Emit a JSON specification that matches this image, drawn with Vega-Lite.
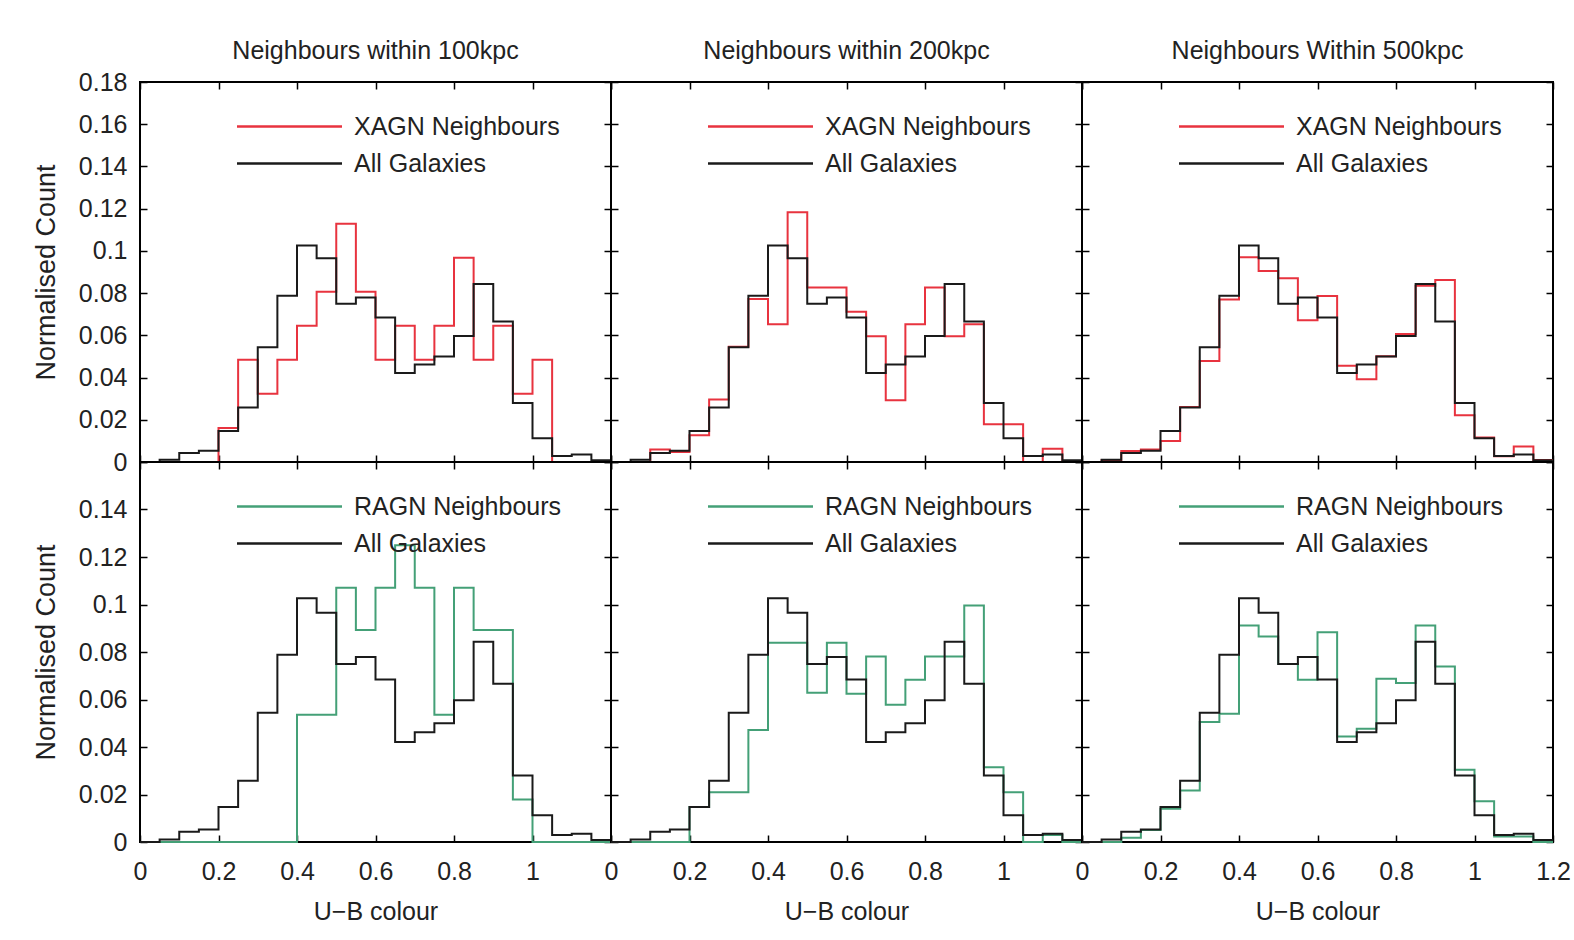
{
  "$schema": "https://vega.github.io/schema/vega-lite/v6.json",
  "background": "white",
  "padding": {"left": 31, "top": 38, "right": 10, "bottom": 5},
  "datasets": {
    "all": [
      {"x": 0, "y": 0}, {"x": 0.05, "y": 0.0011}, {"x": 0.1, "y": 0.0043}, {"x": 0.15, "y": 0.0053},
      {"x": 0.2, "y": 0.0147}, {"x": 0.25, "y": 0.0258}, {"x": 0.3, "y": 0.0544}, {"x": 0.35, "y": 0.0788},
      {"x": 0.4, "y": 0.1026}, {"x": 0.45, "y": 0.0965}, {"x": 0.5, "y": 0.075}, {"x": 0.55, "y": 0.0779},
      {"x": 0.6, "y": 0.0684}, {"x": 0.65, "y": 0.0421}, {"x": 0.7, "y": 0.0462}, {"x": 0.75, "y": 0.05},
      {"x": 0.8, "y": 0.0597}, {"x": 0.85, "y": 0.0843}, {"x": 0.9, "y": 0.0666}, {"x": 0.95, "y": 0.028},
      {"x": 1.0, "y": 0.0113}, {"x": 1.05, "y": 0.0029}, {"x": 1.1, "y": 0.0035}, {"x": 1.15, "y": 0.0008},
      {"x": 1.2, "y": 0.0008}
    ],
    "xagn100": [
      {"x": 0, "y": 0}, {"x": 0.05, "y": 0}, {"x": 0.1, "y": 0}, {"x": 0.15, "y": 0},
      {"x": 0.2, "y": 0.0161}, {"x": 0.25, "y": 0.0484}, {"x": 0.3, "y": 0.0323}, {"x": 0.35, "y": 0.0484},
      {"x": 0.4, "y": 0.0645}, {"x": 0.45, "y": 0.0806}, {"x": 0.5, "y": 0.1129}, {"x": 0.55, "y": 0.0806},
      {"x": 0.6, "y": 0.0484}, {"x": 0.65, "y": 0.0645}, {"x": 0.7, "y": 0.0484}, {"x": 0.75, "y": 0.0645},
      {"x": 0.8, "y": 0.0968}, {"x": 0.85, "y": 0.0484}, {"x": 0.9, "y": 0.0645}, {"x": 0.95, "y": 0.0323},
      {"x": 1.0, "y": 0.0484}, {"x": 1.05, "y": 0}, {"x": 1.1, "y": 0}, {"x": 1.15, "y": 0},
      {"x": 1.2, "y": 0}
    ],
    "xagn200": [
      {"x": 0, "y": 0}, {"x": 0.05, "y": 0}, {"x": 0.1, "y": 0.0059}, {"x": 0.15, "y": 0.0047},
      {"x": 0.2, "y": 0.0127}, {"x": 0.25, "y": 0.0296}, {"x": 0.3, "y": 0.0546}, {"x": 0.35, "y": 0.0772},
      {"x": 0.4, "y": 0.0653}, {"x": 0.45, "y": 0.1183}, {"x": 0.5, "y": 0.0827}, {"x": 0.55, "y": 0.0827},
      {"x": 0.6, "y": 0.0712}, {"x": 0.65, "y": 0.0596}, {"x": 0.7, "y": 0.0293}, {"x": 0.75, "y": 0.0652},
      {"x": 0.8, "y": 0.0827}, {"x": 0.85, "y": 0.0596}, {"x": 0.9, "y": 0.0653}, {"x": 0.95, "y": 0.0179},
      {"x": 1.0, "y": 0.0179}, {"x": 1.05, "y": 0}, {"x": 1.1, "y": 0.0063}, {"x": 1.15, "y": 0},
      {"x": 1.2, "y": 0}
    ],
    "xagn500": [
      {"x": 0, "y": 0}, {"x": 0.05, "y": 0.0008}, {"x": 0.1, "y": 0.0052}, {"x": 0.15, "y": 0.0059},
      {"x": 0.2, "y": 0.01}, {"x": 0.25, "y": 0.0261}, {"x": 0.3, "y": 0.0479}, {"x": 0.35, "y": 0.077},
      {"x": 0.4, "y": 0.097}, {"x": 0.45, "y": 0.0905}, {"x": 0.5, "y": 0.087}, {"x": 0.55, "y": 0.0672},
      {"x": 0.6, "y": 0.0786}, {"x": 0.65, "y": 0.0456}, {"x": 0.7, "y": 0.0392}, {"x": 0.75, "y": 0.0501},
      {"x": 0.8, "y": 0.0606}, {"x": 0.85, "y": 0.0835}, {"x": 0.9, "y": 0.0862}, {"x": 0.95, "y": 0.0222},
      {"x": 1.0, "y": 0.0116}, {"x": 1.05, "y": 0.0027}, {"x": 1.1, "y": 0.0074}, {"x": 1.15, "y": 0.0009},
      {"x": 1.2, "y": 0.0009}
    ],
    "ragn100": [
      {"x": 0, "y": 0}, {"x": 0.05, "y": 0}, {"x": 0.1, "y": 0}, {"x": 0.15, "y": 0},
      {"x": 0.2, "y": 0}, {"x": 0.25, "y": 0}, {"x": 0.3, "y": 0}, {"x": 0.35, "y": 0},
      {"x": 0.4, "y": 0.0536}, {"x": 0.45, "y": 0.0536}, {"x": 0.5, "y": 0.1071}, {"x": 0.55, "y": 0.0893},
      {"x": 0.6, "y": 0.1071}, {"x": 0.65, "y": 0.125}, {"x": 0.7, "y": 0.1071}, {"x": 0.75, "y": 0.0536},
      {"x": 0.8, "y": 0.1071}, {"x": 0.85, "y": 0.0893}, {"x": 0.9, "y": 0.0893}, {"x": 0.95, "y": 0.0179},
      {"x": 1.0, "y": 0}, {"x": 1.05, "y": 0}, {"x": 1.1, "y": 0}, {"x": 1.15, "y": 0},
      {"x": 1.2, "y": 0}
    ],
    "ragn200": [
      {"x": 0, "y": 0}, {"x": 0.05, "y": 0}, {"x": 0.1, "y": 0}, {"x": 0.15, "y": 0},
      {"x": 0.2, "y": 0.0147}, {"x": 0.25, "y": 0.021}, {"x": 0.3, "y": 0.021}, {"x": 0.35, "y": 0.0472},
      {"x": 0.4, "y": 0.0839}, {"x": 0.45, "y": 0.0839}, {"x": 0.5, "y": 0.0628}, {"x": 0.55, "y": 0.0839},
      {"x": 0.6, "y": 0.0624}, {"x": 0.65, "y": 0.0781}, {"x": 0.7, "y": 0.0578}, {"x": 0.75, "y": 0.0683},
      {"x": 0.8, "y": 0.0781}, {"x": 0.85, "y": 0.0781}, {"x": 0.9, "y": 0.0996}, {"x": 0.95, "y": 0.0315},
      {"x": 1.0, "y": 0.021}, {"x": 1.05, "y": 0}, {"x": 1.1, "y": 0.003}, {"x": 1.15, "y": 0},
      {"x": 1.2, "y": 0}
    ],
    "ragn500": [
      {"x": 0, "y": 0}, {"x": 0.05, "y": 0}, {"x": 0.1, "y": 0.0018}, {"x": 0.15, "y": 0.0051},
      {"x": 0.2, "y": 0.014}, {"x": 0.25, "y": 0.0217}, {"x": 0.3, "y": 0.0505}, {"x": 0.35, "y": 0.054},
      {"x": 0.4, "y": 0.0912}, {"x": 0.45, "y": 0.0865}, {"x": 0.5, "y": 0.075}, {"x": 0.55, "y": 0.0683},
      {"x": 0.6, "y": 0.0883}, {"x": 0.65, "y": 0.0444}, {"x": 0.7, "y": 0.0477}, {"x": 0.75, "y": 0.0687},
      {"x": 0.8, "y": 0.0669}, {"x": 0.85, "y": 0.0912}, {"x": 0.9, "y": 0.0739}, {"x": 0.95, "y": 0.0304},
      {"x": 1.0, "y": 0.0172}, {"x": 1.05, "y": 0.0023}, {"x": 1.1, "y": 0.0023}, {"x": 1.15, "y": 0},
      {"x": 1.2, "y": 0}
    ]
  },
  "columns": 3,
  "spacing": 0,
  "bounds": "flush",
  "resolve": {"scale": {"color": "independent"}, "legend": {"color": "independent"}},
  "concat": [
    {
      "width": 471, "height": 380,
      "title": {"text": "Neighbours within 100kpc", "offset": 6},
      "layer": [
        {"data": {"name": "xagn100"}, "mark": {"type": "line", "interpolate": "step-after", "strokeWidth": 2},
         "encoding": {
           "x": {"field": "x", "type": "quantitative", "scale": {"domain": [0, 1.2], "nice": false, "zero": false}, "axis": {"orient": "bottom", "values": [0, 0.2, 0.4, 0.6, 0.8, 1, 1.2], "labels": false, "title": null}},
           "y": {"field": "y", "type": "quantitative", "scale": {"domain": [0, 0.18], "nice": false}, "axis": {"orient": "left", "values": [0, 0.02, 0.04, 0.06, 0.08, 0.1, 0.12, 0.14, 0.16, 0.18], "format": "~g", "title": "Normalised Count"}},
           "color": {"datum": "XAGN Neighbours", "type": "nominal", "scale": {"domain": ["XAGN Neighbours", "All Galaxies"], "range": ["#e8333f", "#1a1a1a"]}, "legend": {"orient": "none", "legendX": 137, "legendY": 32}}
         }},
        {"data": {"name": "all"}, "mark": {"type": "line", "interpolate": "step-after", "strokeWidth": 2},
         "encoding": {
           "x": {"field": "x", "type": "quantitative", "scale": {"domain": [0, 1.2], "nice": false, "zero": false}, "axis": {"orient": "top", "values": [0, 0.2, 0.4, 0.6, 0.8, 1, 1.2], "labels": false, "title": null}},
           "y": {"field": "y", "type": "quantitative", "scale": {"domain": [0, 0.18], "nice": false}, "axis": {"orient": "right", "values": [0, 0.02, 0.04, 0.06, 0.08, 0.1, 0.12, 0.14, 0.16, 0.18], "labels": false, "title": null}},
           "color": {"datum": "All Galaxies", "type": "nominal"}
         }}
      ],
      "resolve": {"axis": {"x": "independent", "y": "independent"}}
    },
    {
      "width": 471, "height": 380,
      "title": {"text": "Neighbours within 200kpc", "offset": 17},
      "layer": [
        {"data": {"name": "xagn200"}, "mark": {"type": "line", "interpolate": "step-after", "strokeWidth": 2},
         "encoding": {
           "x": {"field": "x", "type": "quantitative", "scale": {"domain": [0, 1.2], "nice": false, "zero": false}, "axis": {"orient": "bottom", "values": [0, 0.2, 0.4, 0.6, 0.8, 1, 1.2], "labels": false, "title": null}},
           "y": {"field": "y", "type": "quantitative", "scale": {"domain": [0, 0.18], "nice": false}, "axis": {"orient": "left", "values": [0, 0.02, 0.04, 0.06, 0.08, 0.1, 0.12, 0.14, 0.16, 0.18], "labels": false, "title": null}},
           "color": {"datum": "XAGN Neighbours", "type": "nominal", "scale": {"domain": ["XAGN Neighbours", "All Galaxies"], "range": ["#e8333f", "#1a1a1a"]}, "legend": {"orient": "none", "legendX": 137, "legendY": 32}}
         }},
        {"data": {"name": "all"}, "mark": {"type": "line", "interpolate": "step-after", "strokeWidth": 2},
         "encoding": {
           "x": {"field": "x", "type": "quantitative", "scale": {"domain": [0, 1.2], "nice": false, "zero": false}, "axis": {"orient": "top", "values": [0, 0.2, 0.4, 0.6, 0.8, 1, 1.2], "labels": false, "title": null}},
           "y": {"field": "y", "type": "quantitative", "scale": {"domain": [0, 0.18], "nice": false}, "axis": {"orient": "right", "values": [0, 0.02, 0.04, 0.06, 0.08, 0.1, 0.12, 0.14, 0.16, 0.18], "labels": false, "title": null}},
           "color": {"datum": "All Galaxies", "type": "nominal"}
         }}
      ],
      "resolve": {"axis": {"x": "independent", "y": "independent"}}
    },
    {
      "width": 471, "height": 380,
      "title": {"text": "Neighbours Within 500kpc", "offset": 17},
      "layer": [
        {"data": {"name": "xagn500"}, "mark": {"type": "line", "interpolate": "step-after", "strokeWidth": 2},
         "encoding": {
           "x": {"field": "x", "type": "quantitative", "scale": {"domain": [0, 1.2], "nice": false, "zero": false}, "axis": {"orient": "bottom", "values": [0, 0.2, 0.4, 0.6, 0.8, 1, 1.2], "labels": false, "title": null}},
           "y": {"field": "y", "type": "quantitative", "scale": {"domain": [0, 0.18], "nice": false}, "axis": {"orient": "left", "values": [0, 0.02, 0.04, 0.06, 0.08, 0.1, 0.12, 0.14, 0.16, 0.18], "labels": false, "title": null}},
           "color": {"datum": "XAGN Neighbours", "type": "nominal", "scale": {"domain": ["XAGN Neighbours", "All Galaxies"], "range": ["#e8333f", "#1a1a1a"]}, "legend": {"orient": "none", "legendX": 137, "legendY": 32}}
         }},
        {"data": {"name": "all"}, "mark": {"type": "line", "interpolate": "step-after", "strokeWidth": 2},
         "encoding": {
           "x": {"field": "x", "type": "quantitative", "scale": {"domain": [0, 1.2], "nice": false, "zero": false}, "axis": {"orient": "top", "values": [0, 0.2, 0.4, 0.6, 0.8, 1, 1.2], "labels": false, "title": null}},
           "y": {"field": "y", "type": "quantitative", "scale": {"domain": [0, 0.18], "nice": false}, "axis": {"orient": "right", "values": [0, 0.02, 0.04, 0.06, 0.08, 0.1, 0.12, 0.14, 0.16, 0.18], "labels": false, "title": null}},
           "color": {"datum": "All Galaxies", "type": "nominal"}
         }}
      ],
      "resolve": {"axis": {"x": "independent", "y": "independent"}}
    },
    {
      "width": 471, "height": 380,
      "layer": [
        {"data": {"name": "ragn100"}, "mark": {"type": "line", "interpolate": "step-after", "strokeWidth": 2},
         "encoding": {
           "x": {"field": "x", "type": "quantitative", "scale": {"domain": [0, 1.2], "nice": false, "zero": false}, "axis": {"orient": "bottom", "values": [0, 0.2, 0.4, 0.6, 0.8, 1, 1.2], "format": "~g", "labelExpr": "datum.value > 1.1 ? '' : datum.label", "title": "U−B colour"}},
           "y": {"field": "y", "type": "quantitative", "scale": {"domain": [0, 0.16], "nice": false}, "axis": {"orient": "left", "values": [0, 0.02, 0.04, 0.06, 0.08, 0.1, 0.12, 0.14, 0.16], "format": "~g", "labelExpr": "datum.value > 0.15 ? '' : datum.label", "title": "Normalised Count"}},
           "color": {"datum": "RAGN Neighbours", "type": "nominal", "scale": {"domain": ["RAGN Neighbours", "All Galaxies"], "range": ["#44a077", "#1a1a1a"]}, "legend": {"orient": "none", "legendX": 137, "legendY": 32}}
         }},
        {"data": {"name": "all"}, "mark": {"type": "line", "interpolate": "step-after", "strokeWidth": 2},
         "encoding": {
           "x": {"field": "x", "type": "quantitative", "scale": {"domain": [0, 1.2], "nice": false, "zero": false}, "axis": {"orient": "top", "values": [0, 0.2, 0.4, 0.6, 0.8, 1, 1.2], "labels": false, "title": null}},
           "y": {"field": "y", "type": "quantitative", "scale": {"domain": [0, 0.16], "nice": false}, "axis": {"orient": "right", "values": [0, 0.02, 0.04, 0.06, 0.08, 0.1, 0.12, 0.14, 0.16], "labels": false, "title": null}},
           "color": {"datum": "All Galaxies", "type": "nominal"}
         }}
      ],
      "resolve": {"axis": {"x": "independent", "y": "independent"}}
    },
    {
      "width": 471, "height": 380,
      "layer": [
        {"data": {"name": "ragn200"}, "mark": {"type": "line", "interpolate": "step-after", "strokeWidth": 2},
         "encoding": {
           "x": {"field": "x", "type": "quantitative", "scale": {"domain": [0, 1.2], "nice": false, "zero": false}, "axis": {"orient": "bottom", "values": [0, 0.2, 0.4, 0.6, 0.8, 1, 1.2], "format": "~g", "labelExpr": "datum.value > 1.1 ? '' : datum.label", "title": "U−B colour"}},
           "y": {"field": "y", "type": "quantitative", "scale": {"domain": [0, 0.16], "nice": false}, "axis": {"orient": "left", "values": [0, 0.02, 0.04, 0.06, 0.08, 0.1, 0.12, 0.14, 0.16], "labels": false, "title": null}},
           "color": {"datum": "RAGN Neighbours", "type": "nominal", "scale": {"domain": ["RAGN Neighbours", "All Galaxies"], "range": ["#44a077", "#1a1a1a"]}, "legend": {"orient": "none", "legendX": 137, "legendY": 32}}
         }},
        {"data": {"name": "all"}, "mark": {"type": "line", "interpolate": "step-after", "strokeWidth": 2},
         "encoding": {
           "x": {"field": "x", "type": "quantitative", "scale": {"domain": [0, 1.2], "nice": false, "zero": false}, "axis": {"orient": "top", "values": [0, 0.2, 0.4, 0.6, 0.8, 1, 1.2], "labels": false, "title": null}},
           "y": {"field": "y", "type": "quantitative", "scale": {"domain": [0, 0.16], "nice": false}, "axis": {"orient": "right", "values": [0, 0.02, 0.04, 0.06, 0.08, 0.1, 0.12, 0.14, 0.16], "labels": false, "title": null}},
           "color": {"datum": "All Galaxies", "type": "nominal"}
         }}
      ],
      "resolve": {"axis": {"x": "independent", "y": "independent"}}
    },
    {
      "width": 471, "height": 380,
      "layer": [
        {"data": {"name": "ragn500"}, "mark": {"type": "line", "interpolate": "step-after", "strokeWidth": 2},
         "encoding": {
           "x": {"field": "x", "type": "quantitative", "scale": {"domain": [0, 1.2], "nice": false, "zero": false}, "axis": {"orient": "bottom", "values": [0, 0.2, 0.4, 0.6, 0.8, 1, 1.2], "format": "~g", "title": "U−B colour"}},
           "y": {"field": "y", "type": "quantitative", "scale": {"domain": [0, 0.16], "nice": false}, "axis": {"orient": "left", "values": [0, 0.02, 0.04, 0.06, 0.08, 0.1, 0.12, 0.14, 0.16], "labels": false, "title": null}},
           "color": {"datum": "RAGN Neighbours", "type": "nominal", "scale": {"domain": ["RAGN Neighbours", "All Galaxies"], "range": ["#44a077", "#1a1a1a"]}, "legend": {"orient": "none", "legendX": 137, "legendY": 32}}
         }},
        {"data": {"name": "all"}, "mark": {"type": "line", "interpolate": "step-after", "strokeWidth": 2},
         "encoding": {
           "x": {"field": "x", "type": "quantitative", "scale": {"domain": [0, 1.2], "nice": false, "zero": false}, "axis": {"orient": "top", "values": [0, 0.2, 0.4, 0.6, 0.8, 1, 1.2], "labels": false, "title": null}},
           "y": {"field": "y", "type": "quantitative", "scale": {"domain": [0, 0.16], "nice": false}, "axis": {"orient": "right", "values": [0, 0.02, 0.04, 0.06, 0.08, 0.1, 0.12, 0.14, 0.16], "labels": false, "title": null}},
           "color": {"datum": "All Galaxies", "type": "nominal"}
         }}
      ],
      "resolve": {"axis": {"x": "independent", "y": "independent"}}
    }
  ],
  "config": {
    "font": "Liberation Sans",
    "view": {"stroke": "#000000", "strokeWidth": 2},
    "axis": {
      "grid": false, "domain": false,
      "ticks": true, "tickColor": "#000000", "tickWidth": 1.5, "tickSize": -7,
      "labelFont": "Liberation Sans", "labelFontSize": 25, "labelColor": "#222222",
      "labelFlush": false, "labelOverlap": false, "labelBound": false,
      "titleFont": "Liberation Sans", "titleFontSize": 25, "titleFontWeight": "normal", "titleColor": "#222222"
    },
    "axisLeft": {"labelPadding": 20, "titlePadding": 18, "titleFontSize": 27},
    "axisBottom": {"labelPadding": 24, "titlePadding": 15},
    "title": {"font": "Liberation Sans", "fontSize": 25, "fontWeight": "normal", "color": "#222222", "frame": "group"},
    "legend": {
      "title": null, "symbolType": "M-5,0H5", "symbolSize": 441, "symbolStrokeWidth": 2.5,
      "labelOffset": 52, "labelFont": "Liberation Sans", "labelFontSize": 25, "labelColor": "#222222",
      "labelLimit": 400, "rowPadding": 11, "padding": 0
    }
  }
}
